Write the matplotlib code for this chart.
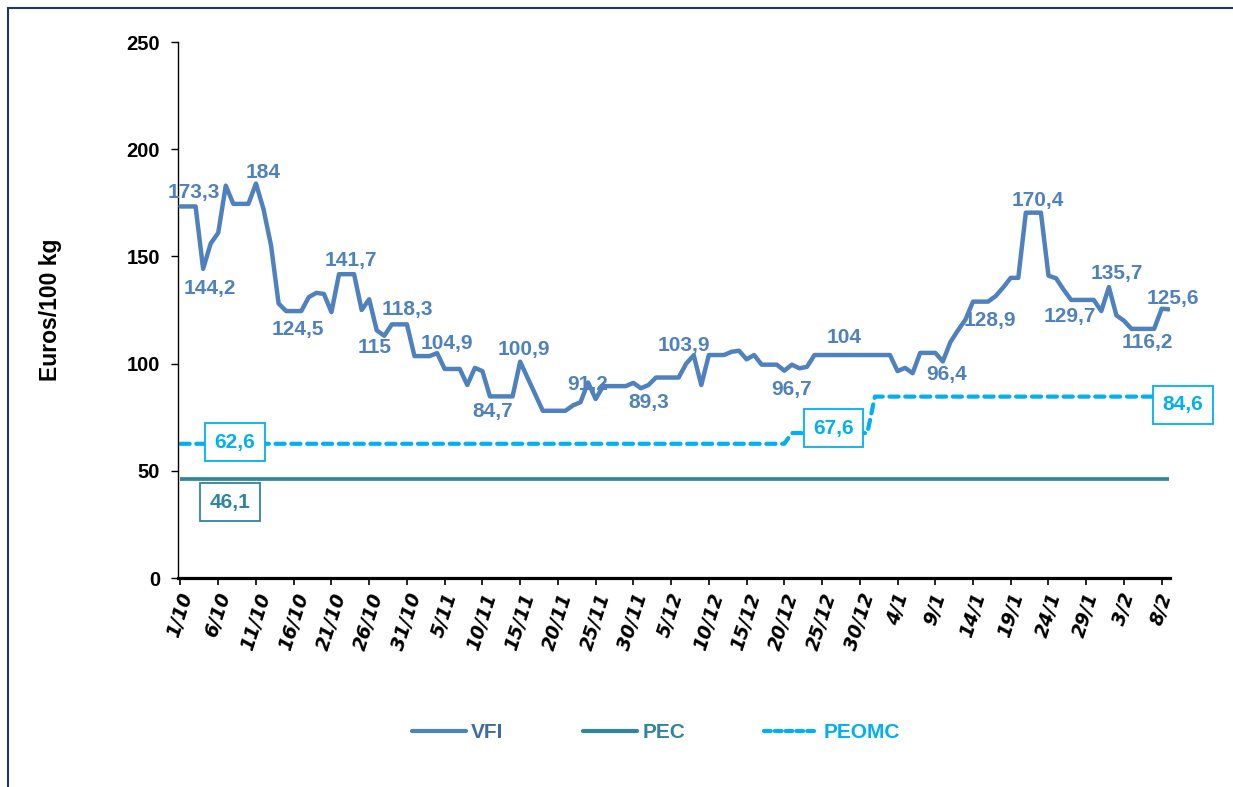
import matplotlib
matplotlib.use('Agg')
import matplotlib.pyplot as plt
from matplotlib.lines import Line2D

W, H, DPI = 1233, 787, 100

# ---------------- data ----------------
tick_labels = ["1/10", "6/10", "11/10", "16/10", "21/10", "26/10", "31/10",
               "5/11", "10/11", "15/11", "20/11", "25/11", "30/11",
               "5/12", "10/12", "15/12", "20/12", "25/12", "30/12",
               "4/1", "9/1", "14/1", "19/1", "24/1", "29/1", "3/2", "8/2"]
tick_days = [0, 5, 10, 15, 20, 25, 30, 35, 40, 45, 50, 55, 60, 65, 70, 75,
             80, 85, 90, 95, 100, 105, 110, 115, 120, 125, 130]

# VFI (day index from 1/10, value in euros/100 kg)
vfi_days = [0, 2, 3, 4, 5, 6, 7, 9, 10, 11, 12, 13, 14, 16, 17, 18, 19, 20,
            21, 23, 24, 25, 26, 27, 28, 30, 31, 33, 34, 35, 37, 38, 39, 40,
            41, 44, 45, 48, 51, 52, 53, 54, 55, 56, 59, 60, 61, 62, 63, 66,
            67, 68, 69, 70, 72, 73, 74, 75, 76, 77, 79, 80, 81, 82, 83, 84,
            94, 95, 96, 97, 98, 100, 101, 102, 103, 104, 105, 107, 108, 109,
            110, 111, 112, 114, 115, 116, 117, 118, 121, 122, 123, 124, 125,
            126, 129, 130, 131]
vfi_values = [173.3, 173.3, 144.2, 156, 161, 183, 174.5, 174.5, 184, 172, 155,
              128, 124.5, 124.5, 131, 133, 132.5, 124, 141.7, 141.7, 125, 130,
              115.5, 113, 118.3, 118.3, 103.5, 103.5, 104.9, 97.5, 97.5, 90,
              98, 96.5, 84.7, 84.7, 100.9, 78, 78, 80.5, 82, 91.2, 83.5, 89.5,
              89.5, 91, 88.5, 90, 93.5, 93.5, 100, 103.9, 90, 104, 104, 105.5,
              106, 102, 104, 99.5, 99.5, 96.7, 99.5, 97.8, 98.5, 104,
              104, 96.5, 98, 95.5, 105, 105, 101, 110, 115.5, 120.5, 128.9,
              128.9, 131.5, 135.5, 140, 140, 170.4, 170.4, 141, 139.8, 134.5,
              129.7, 129.7, 124.5, 135.7, 122.5, 120, 116.2, 116.2, 125.6,
              125.3]

pec_days = [0, 131]
pec_values = [46.1, 46.1]

peomc_days = [0, 80, 81, 91, 92, 131]
peomc_values = [62.6, 62.6, 67.6, 67.6, 84.6, 84.6]

vfi_label_texts = ["173,3", "144,2", "184", "124,5", "141,7", "115", "118,3",
                   "104,9", "84,7", "100,9", "91,2", "89,3", "103,9", "96,7",
                   "104", "96,4", "128,9", "170,4", "129,7", "135,7", "116,2",
                   "125,6"]
box_texts = ["62,6", "46,1", "67,6", "84,6"]

# ---------------- layout / style ----------------
vfi_label_pos = [(1.8, 179.8), (3.9, 135.1), (10.9, 189.1), (15.5, 116.1),
                 (22.6, 147.9), (25.7, 107.6), (30.1, 125.4), (35.3, 109.4),
                 (41.3, 77.5), (45.5, 106.8), (53.9, 90.4), (62.1, 81.9),
                 (66.7, 108.3), (81.0, 88.1), (87.9, 112.2), (101.5, 95.1),
                 (107.3, 120.3), (113.6, 175.9), (117.8, 121.8), (124.0, 141.9),
                 (128.1, 109.9), (131.5, 130.5)]
box_pos = [(7.2, 63.4), (6.6, 35.4), (86.5, 69.8), (132.8, 80.7)]

C_VFI = "#4F81BD"
C_PEC = "#31859C"
C_PEOMC = "#00B0F0"
box_colors = [C_PEOMC, C_PEC, C_PEOMC, C_PEOMC]

SANS = ['Liberation Sans', 'DejaVu Sans']
FS = 14.5

fig = plt.figure(figsize=(W / DPI, H / DPI), dpi=DPI)
fig.patch.set_facecolor('white')

ax = fig.add_axes([178 / W, 1 - 578 / H, (1170 - 178) / W, (578 - 42) / H])
ax.set_xlim(-0.33, 131.1)
ax.set_ylim(0, 250)

ax.plot(pec_days, pec_values, color=C_PEC, lw=2.7, solid_capstyle='butt', zorder=2)
ax.plot(peomc_days, peomc_values, color=C_PEOMC, lw=3, linestyle=(0, (2.2, 1.6)),
        dash_capstyle='round', zorder=2)
ax.plot(vfi_days, vfi_values, color=C_VFI, lw=3.2, solid_joinstyle='round',
        solid_capstyle='round', zorder=3)

for t, (x, y) in zip(vfi_label_texts, vfi_label_pos):
    ax.text(x, y, t, color=C_VFI, fontsize=15, fontweight='bold', family=SANS,
            ha='center', va='center', zorder=5, clip_on=False)

for t, (x, y), c in zip(box_texts, box_pos, box_colors):
    ax.text(x, y, t, color=c, fontsize=15, fontweight='bold', family=SANS,
            ha='center', va='center', zorder=6, clip_on=False,
            bbox=dict(boxstyle='square,pad=0.45', fc='white', ec=c, lw=1.3))

for s in ['top', 'right']:
    ax.spines[s].set_visible(False)
ax.spines['left'].set_linewidth(1.0)
ax.spines['bottom'].set_linewidth(2.3)

ax.set_yticks([0, 50, 100, 150, 200, 250])
ax.set_yticklabels(["0", "50", "100", "150", "200", "250"], family=SANS,
                   fontsize=FS, fontweight='bold')
ax.tick_params(axis='y', direction='out', length=5, width=1, pad=8)

ax.set_xticks(tick_days)
ax.set_xticklabels(tick_labels, rotation=72, ha='center', va='top',
                   family='DejaVu Sans', fontsize=13.5, fontweight='bold',
                   fontstyle='italic')
ax.tick_params(axis='x', direction='out', length=5, width=1.2, pad=4)

fig.text(51 / W, 1 - 310 / H, "Euros/100 kg", rotation=90, ha='center', va='center',
         family=SANS, fontsize=16.5, fontweight='bold')

handles = [Line2D([], [], color=C_VFI, lw=3, solid_capstyle='round'),
           Line2D([], [], color=C_PEC, lw=3, solid_capstyle='round'),
           Line2D([], [], color=C_PEOMC, lw=3, linestyle=(0, (1.6, 1.0)),
                  dash_capstyle='round')]
leg = fig.legend(handles, ["VFI", "PEC", "PEOMC"], loc='center',
                 bbox_to_anchor=(656 / W, 1 - 733 / H), ncol=3, frameon=False,
                 handlelength=2.6, columnspacing=3.8, handletextpad=0.25,
                 prop={'family': SANS, 'size': 15, 'weight': 'bold'},
                 labelcolor=["#3F6B9F", C_PEC, C_PEOMC])

# outer chart frame (left and top edges visible)
fig.add_artist(Line2D([8 / W, 8 / W], [0, 1 - 8 / H], transform=fig.transFigure,
                      color="#1F3864", lw=1.5))
fig.add_artist(Line2D([8 / W, 1], [1 - 8 / H, 1 - 8 / H], transform=fig.transFigure,
                      color="#1F3864", lw=1.5))

fig.savefig("out.png", dpi=DPI, facecolor='white')
